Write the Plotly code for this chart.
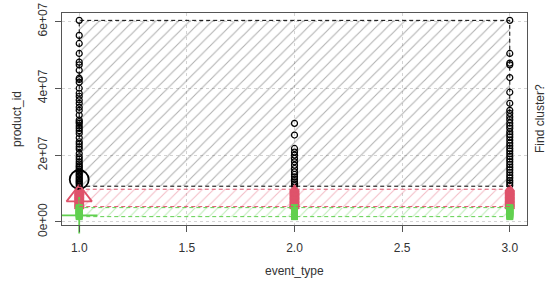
import plotly.graph_objects as go

# ---- data (product_id values per event_type) ----
c1_x1 = [60.3, 55.8, 53.4, 50.4, 47.8, 47.0, 45.4, 43.0, 42.6, 41.8, 40.0, 38.5, 37.6,
         36.5, 35.5, 34.3, 33.4, 32.0, 30.5, 30.0, 29.5, 28.7, 28.0, 27.3, 26.5, 25.2,
         24.0, 23.3, 22.5, 21.8, 20.5, 19.5, 18.8, 18.0, 17.4, 16.8, 16.4, 15.8, 15.3,
         14.8, 14.3, 13.9, 13.4, 12.9, 12.5, 12.1, 11.7, 11.3, 10.7]
c1_x2 = [29.5, 26.0, 22.0, 20.9, 20.0, 19.0, 18.0, 17.0, 16.0, 15.0, 14.2, 13.5, 12.8,
         12.0, 11.4, 10.9]
c1_x3 = [60.3, 50.4, 47.5, 47.0, 43.2, 38.8, 35.5, 33.4, 32.5, 31.5, 30.6, 29.6, 28.8,
         28.0, 27.0, 26.2, 25.4, 24.5, 23.6, 22.8, 22.0, 21.2, 20.4, 19.6, 18.8, 18.0,
         17.2, 16.4, 15.6, 14.8, 14.0, 13.2, 12.4, 11.7, 11.0]
c2_vals = [9.8, 9.4, 9.0, 8.6, 8.2, 7.8, 7.4, 7.0, 6.6, 6.2, 5.8, 5.4, 5.0, 4.6]
c3_vals = [4.3, 4.0, 3.7, 3.4, 3.1, 2.8, 2.5, 2.2, 1.9, 1.6]
event_types = [1.0, 2.0, 3.0]
centers_x = [1.0, 1.0, 1.0]
centers_y = [12.7, 7.8, 2.0]
scale = 1e6

y_tick_vals = [0, 2e7, 4e7, 6e7]
y_tick_text = ["0e+00", "2e+07", "4e+07", "6e+07"]
x_tick_vals = [1.0, 1.5, 2.0, 2.5, 3.0]
x_tick_text = ["1.0", "1.5", "2.0", "2.5", "3.0"]

BLACK = "#000000"
RED = "#DF536B"
GREEN = "#61D04F"

def expand(groups):
    xs, ys = [], []
    for xv, vals in groups:
        for v in vals:
            xs.append(xv)
            ys.append(v * scale)
    return xs, ys

k1x, k1y = expand([(1.0, c1_x1), (2.0, c1_x2), (3.0, c1_x3)])
k2x, k2y = expand([(e, c2_vals) for e in event_types])
k3x, k3y = expand([(e, c3_vals) for e in event_types])

clusters = [
    (k1x, k1y, BLACK, "rgba(30,30,30,0.68)"),
    (k2x, k2y, RED, "rgba(223,83,107,0.75)"),
    (k3x, k3y, GREEN, "rgba(97,208,79,0.8)"),
]

fig = go.Figure()
shapes = []
for xs, ys, col, hatch in clusters:
    x0, x1 = min(xs), max(xs)
    y0, y1 = min(ys), max(ys)
    fig.add_trace(go.Bar(
        x=[(x0 + x1) / 2], width=[x1 - x0], base=[y0], y=[y1 - y0],
        marker=dict(color="rgba(0,0,0,0)", line=dict(width=0),
                    pattern=dict(shape="/", size=8, solidity=0.14,
                                 fgcolor=hatch, bgcolor="rgba(0,0,0,0)")),
        hoverinfo="skip", showlegend=False))
    shapes.append(dict(type="rect", xref="x", yref="y", x0=x0, x1=x1, y0=y0, y1=y1,
                       line=dict(color=col, width=1, dash="4px,3px"), layer="above"))

fig.add_trace(go.Scatter(x=k1x, y=k1y, mode="markers", cliponaxis=False,
                         marker=dict(symbol="circle-open", size=6, color=BLACK,
                                     line=dict(width=1.2)), showlegend=False))
fig.add_trace(go.Scatter(x=k2x, y=k2y, mode="markers", cliponaxis=False,
                         marker=dict(symbol="triangle-up-open", size=8, color=RED,
                                     line=dict(width=1.5)), showlegend=False))
fig.add_trace(go.Scatter(x=k3x, y=k3y, mode="markers", cliponaxis=False,
                         marker=dict(symbol="square", size=7, color=GREEN,
                                     line=dict(width=0)), showlegend=False))
# cluster centres
fig.add_trace(go.Scatter(x=[centers_x[0]], y=[centers_y[0] * scale], mode="markers",
                         cliponaxis=False,
                         marker=dict(symbol="circle-open", size=19, color=BLACK,
                                     line=dict(width=1.8)), showlegend=False))
fig.add_trace(go.Scatter(x=[centers_x[1]], y=[centers_y[1] * scale], mode="markers",
                         cliponaxis=False,
                         marker=dict(symbol="triangle-up-open", size=22, color=RED,
                                     line=dict(width=1.8)), showlegend=False))
fig.add_trace(go.Scatter(x=[centers_x[2]], y=[centers_y[2] * scale], mode="markers",
                         cliponaxis=False,
                         marker=dict(symbol="cross-thin-open", size=26, color=GREEN,
                                     line=dict(width=1.8, color=GREEN)), showlegend=False))

fnt = dict(family="Liberation Sans, Arial, sans-serif", size=12, color="#333333")
fig.update_layout(
    width=550, height=293,
    margin=dict(l=62, r=23, t=13, b=68, autoexpand=False),
    paper_bgcolor="white", plot_bgcolor="white",
    barmode="overlay", bargap=0,
    font=fnt,
    shapes=shapes,
    annotations=[
        dict(text="Find cluster?", xref="paper", yref="paper", x=1.0, y=0.5,
             xshift=13, xanchor="center", textangle=-90, showarrow=False, font=fnt),
        dict(text="product_id", xref="paper", yref="paper", x=0.0, y=0.5,
             xshift=-45, xanchor="center", textangle=-90, showarrow=False, font=fnt),
        dict(text="event_type", xref="paper", yref="paper", x=0.5, y=0.0,
             yshift=-46, yanchor="middle", showarrow=False, font=fnt),
    ],
)
fig.update_xaxes(range=[0.92, 3.08], tickvals=x_tick_vals, ticktext=x_tick_text,
                 ticks="outside", ticklen=6, tickcolor="#555555",
                 showline=True, mirror=True, linecolor="#555555", linewidth=1,
                 showgrid=True, gridcolor="#d3d3d3", griddash="dot", gridwidth=1,
                 zeroline=False, ticklabelstandoff=6, automargin=False)
fig.update_yaxes(range=[-0.9e6, 6.25e7], tickvals=y_tick_vals, ticktext=y_tick_text,
                 tickangle=-90, ticks="outside", ticklen=6, tickcolor="#555555",
                 showline=True, mirror=True, linecolor="#555555", linewidth=1,
                 showgrid=True, gridcolor="#d3d3d3", griddash="dot", gridwidth=1,
                 zeroline=False, ticklabelstandoff=3, automargin=False)

fig.write_html("out.html", config={"displayModeBar": False},
               post_script="document.body.style.margin='0';"
                           "document.body.style.overflow='hidden';")
